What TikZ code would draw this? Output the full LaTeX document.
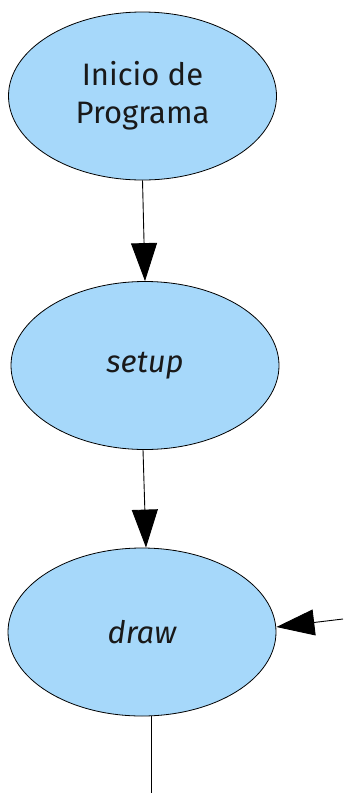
\documentclass[tikz,border=0pt]{standalone}
\usepackage{fontspec}
\setmainfont{Fira Sans}
\usetikzlibrary{shapes.geometric,arrows.meta}
\definecolor{bubble}{RGB}{166,216,250}
\begin{document}
\begin{tikzpicture}[x=1pt,y=-1pt,
  state/.style={ellipse,draw=black,fill=bubble,line width=0.8pt,
    minimum width=268pt,minimum height=168pt,inner sep=0pt,
    font=\fontsize{31}{38}\selectfont,align=center,text=black!90},
  flow/.style={line width=0.9pt,-{Triangle[length=38pt,width=26pt]}}]
\useasboundingbox (0,0) rectangle (343,793);
\node[state] (ini) at (142.5,96) {Inicio de\\Programa};
\node[state] (setup) at (145,365.5) {\itshape setup};
\node[state] (draw) at (142,632) {\itshape draw};
\coordinate (loopin) at (343,619);
\coordinate (out) at (151,793);
\draw[flow] (ini.south) -- (setup.north);
\draw[flow] ([xshift=-2pt]setup.south) -- ([xshift=4pt]draw.north);
\draw[flow] (loopin) -- ([yshift=5pt]draw.east);
\draw[line width=0.9pt] ([xshift=9pt]draw.south) -- (out);
\end{tikzpicture}
\end{document}
